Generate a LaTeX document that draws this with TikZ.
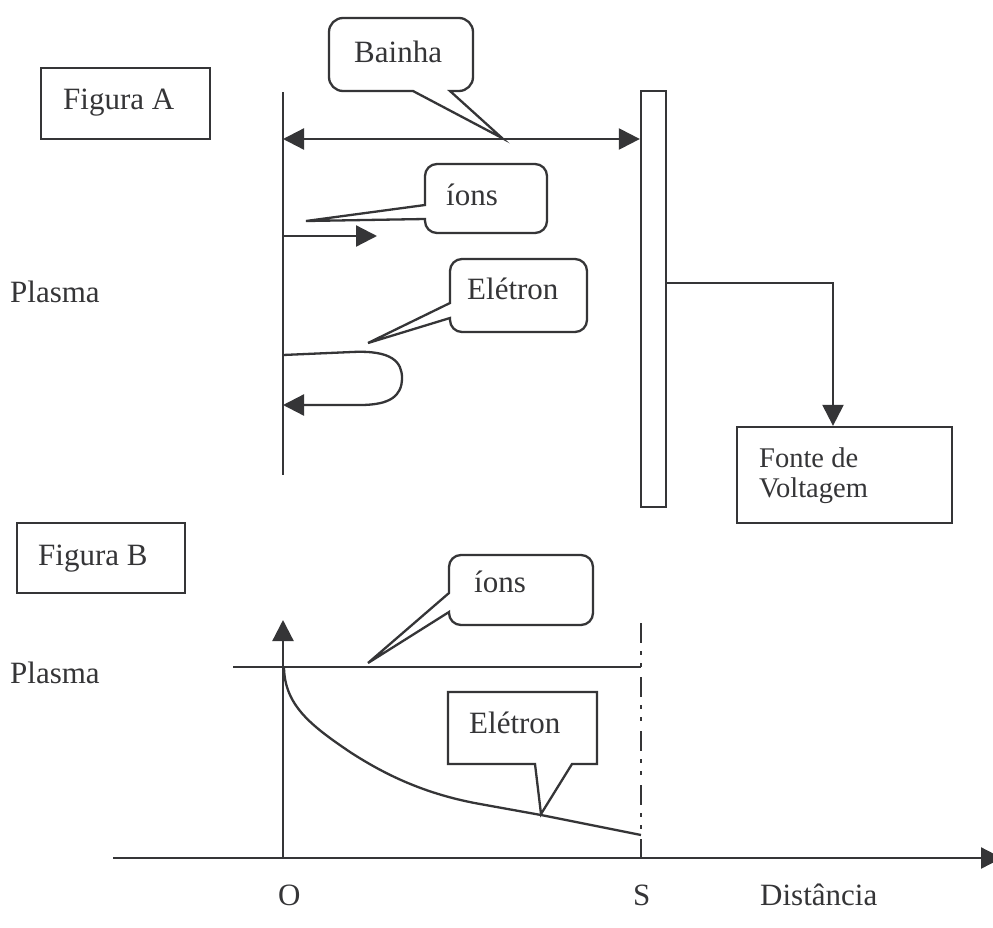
\documentclass[tikz,border=0pt]{standalone}
\usepackage{fontspec}
\setmainfont{Liberation Serif}
\usetikzlibrary{arrows.meta}
\definecolor{ink}{HTML}{353537}
\begin{document}
\begin{tikzpicture}[x=1pt,y=-1pt,
  ln/.style={draw=ink, line width=2.3pt},
  tipA/.tip={Triangle[length=21pt,width=21pt]},
  arr/.style={ln, -tipA},
  dbl/.style={ln, tipA-tipA},
  lbl/.style={text=ink, font=\fontsize{31}{36}\selectfont, inner sep=0pt, anchor=base west},
  smalllbl/.style={text=ink, font=\fontsize{28.5}{30}\selectfont, inner sep=0pt, anchor=base west},
  framebox/.style={ln, fill=white, inner sep=0pt}
]
\useasboundingbox (0,0) rectangle (993,927);
\clip (0,0) rectangle (993,927);
\fill[white] (0,0) rectangle (993,927);

% ---------- Figura A ----------
\node[framebox, minimum width=169pt, minimum height=71pt] (figA) at (125.5,103.5) {};
\node[lbl] (tFigA) at (63,109) {Figura A};
\node[lbl] (tPlasmaA) at (10,302) {Plasma};

\coordinate (Atop) at (283,92);
\coordinate (Abot) at (283,475);
\draw[ln] (Atop) -- (Abot);

% plate
\node[framebox, minimum width=25pt, minimum height=416pt] (plate) at (653.5,299) {};

% sheath double arrow
\coordinate (sL) at (283,139);
\draw[dbl] (sL) -- (sL -| plate.west);

% Bainha callout
\draw[ln, rounded corners=14pt] (400,18) -- (473,18) -- (473,91) [sharp corners] -- (450,91) -- (502,138) -- (413,91) [rounded corners=14pt] -- (329,91) -- (329,18) -- cycle;
\node[lbl] (tBainha) at (354,62) {Bainha};

% ions arrow
\coordinate (iS) at (283,236);
\coordinate (iE) at (377,236);
\draw[arr] (iS) -- (iE);

% ions callout A
\draw[ln, rounded corners=12pt] (486,164) -- (547,164) -- (547,233) -- (425,233) [sharp corners] -- (425,219) -- (306,221) -- (425,205) [rounded corners=12pt] -- (425,164) -- cycle;
\node[lbl] (tIonsA) at (446,205) {íons};

% electron loop
\coordinate (eS) at (283,355);
\coordinate (eE) at (283,405);
\draw[arr] (eS) -- (352,352) .. controls (392,350) and (402,362) .. (402,378) .. controls (402,396) and (390,405) .. (360,405) -- (eE);

% Eletron callout A
\draw[ln, rounded corners=12pt] (518,259) -- (587,259) -- (587,332) -- (450,332) [sharp corners] -- (450,318) -- (368,343) -- (450,303) [rounded corners=12pt] -- (450,259) -- cycle;
\node[lbl] (tEletA) at (467,299) {Elétron};

% voltage source
\node[framebox, minimum width=215pt, minimum height=96pt] (fonte) at (844.5,475) {};
\node[smalllbl] (tFonte1) at (759,467) {Fonte de};
\node[smalllbl] (tFonte2) at (759,497) {Voltagem};
\coordinate (w) at (833,283);
\draw[arr] (plate.east |- w) -- (w) -- (w |- fonte.north);

% ---------- Figura B ----------
\node[framebox, minimum width=168pt, minimum height=70pt] (figB) at (101,558) {};
\node[lbl] (tFigB) at (38,565) {Figura B};
\node[lbl] (tPlasmaB) at (10,683) {Plasma};

\coordinate (orig) at (283,858);
\coordinate (yTop) at (283,620);
\coordinate (xL) at (113,858);
\coordinate (xR) at (1002,858);
\draw[arr] (xL) -- (xR);
\draw[arr] (orig) -- (yTop);

\coordinate (pL) at (233,667);
\coordinate (sTop) at (641,623);
\coordinate (sBot) at (641,858);
\draw[ln] (pL) -- (pL -| sTop);
\draw[ln, dash pattern=on 20pt off 8pt on 4pt off 8pt on 4pt off 10pt] (sTop) -- (sBot);

% ions callout B
\draw[ln, rounded corners=12pt] (521,555) -- (593,555) -- (593,625) -- (449,625) [sharp corners] -- (449,612) -- (368,663) -- (449,593) [rounded corners=12pt] -- (449,555) -- cycle;
\node[lbl] (tIonsB) at (474,592) {íons};

% electron curve
\draw[ln] (284,668) .. controls (285,705) and (310,725) .. (350,752) .. controls (390,778) and (430,795) .. (480,804) -- (541,815) -- (641,835);

% Eletron callout B
\draw[ln, fill=white] (448,692) -- (597,692) -- (597,764) -- (572,764) -- (541,814) -- (535,764) -- (448,764) -- cycle;
\node[lbl] (tEletB) at (469,733) {Elétron};

% axis labels
\node[lbl] (tO) at (278,905) {O};
\node[lbl] (tS) at (633,905) {S};
\node[lbl] (tDist) at (760,905) {Distância};

\end{tikzpicture}
\end{document}
